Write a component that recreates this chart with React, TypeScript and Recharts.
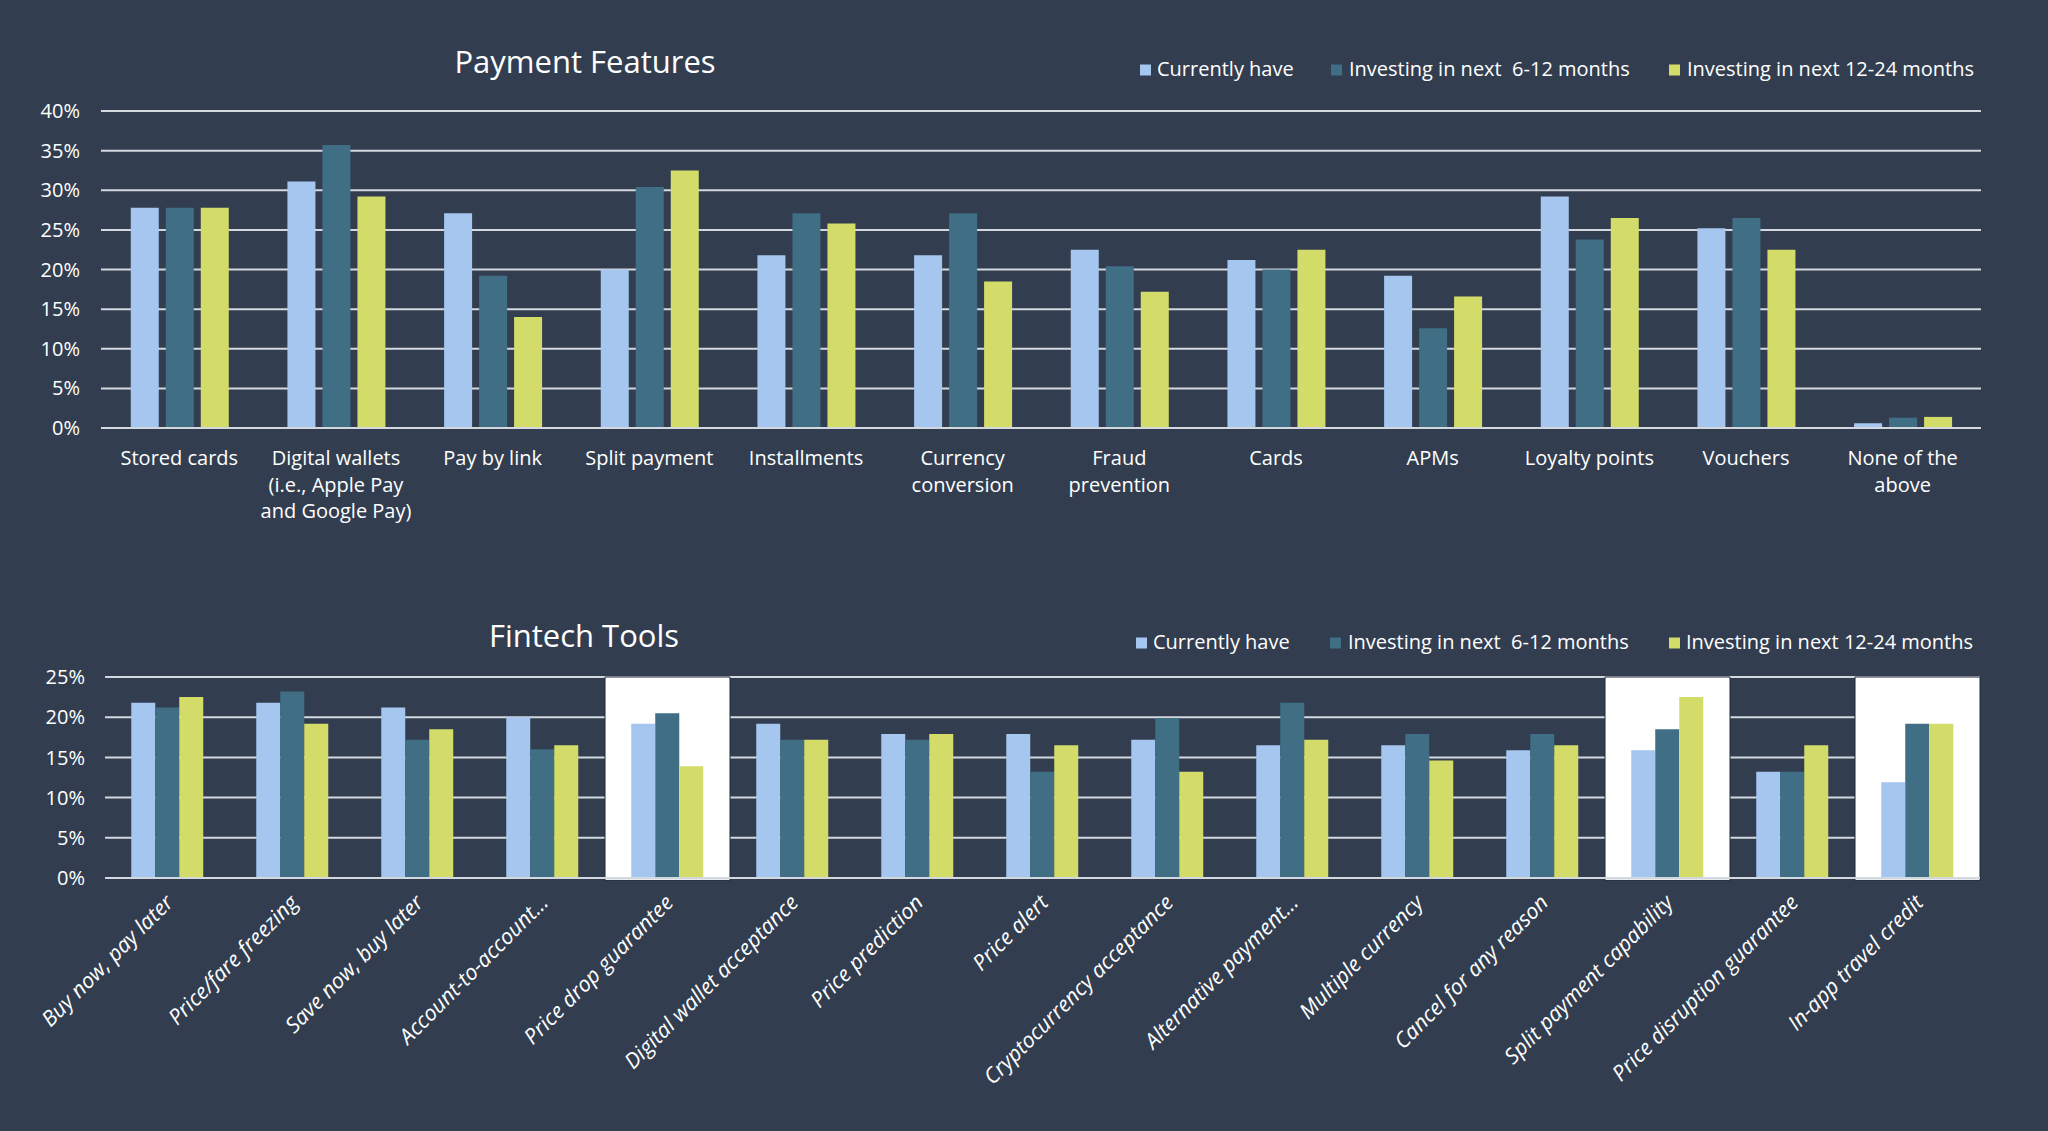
import React from "react";
import {
  BarChart,
  Bar,
  CartesianGrid,
  ReferenceArea,
  XAxis,
  YAxis,
} from "recharts";

const FONT = "'Open Sans', 'DejaVu Sans', sans-serif";
const BG = "#323e50";
const GRID = "#d3d8de";
const COLORS = ["#a5c6ee", "#3f6e85", "#d4dc69"];
const seriesNames = [
  "Currently have",
  "Investing in next  6-12 months",
  "Investing in next 12-24 months",
];

// Payment Features
const paymentCategories = [
  "Stored cards",
  "Digital wallets\n(i.e., Apple Pay\nand Google Pay)",
  "Pay by link",
  "Split payment",
  "Installments",
  "Currency\nconversion",
  "Fraud\nprevention",
  "Cards",
  "APMs",
  "Loyalty points",
  "Vouchers",
  "None of the\nabove",
];
const paymentCurrent = [27.8, 31.1, 27.1, 20.0, 21.8, 21.8, 22.5, 21.2, 19.2, 29.2, 25.2, 0.6];
const payment6to12 = [27.8, 35.7, 19.2, 30.4, 27.1, 27.1, 20.4, 20.0, 12.6, 23.8, 26.5, 1.3];
const payment12to24 = [27.8, 29.2, 14.0, 32.5, 25.8, 18.5, 17.2, 22.5, 16.6, 26.5, 22.5, 1.4];
const paymentTicks = [0, 5, 10, 15, 20, 25, 30, 35, 40];

// Fintech Tools
const fintechCategories = [
  "Buy now, pay later",
  "Price/fare freezing",
  "Save now, buy later",
  "Account-to-account...",
  "Price drop guarantee",
  "Digital wallet acceptance",
  "Price prediction",
  "Price alert",
  "Cryptocurrency acceptance",
  "Alternative payment...",
  "Multiple currency",
  "Cancel for any reason",
  "Split payment capability",
  "Price disruption guarantee",
  "In-app travel credit",
];
const fintechCurrent = [21.8, 21.8, 21.2, 20.0, 19.2, 19.2, 17.9, 17.9, 17.2, 16.5, 16.5, 15.9, 15.9, 13.2, 11.9];
const fintech6to12 = [21.2, 23.2, 17.2, 16.0, 20.5, 17.2, 17.2, 13.2, 19.9, 21.8, 17.9, 17.9, 18.5, 13.2, 19.2];
const fintech12to24 = [22.5, 19.2, 18.5, 16.5, 13.9, 17.2, 17.9, 16.5, 13.2, 17.2, 14.6, 16.5, 22.5, 16.5, 19.2];
const fintechTicks = [0, 5, 10, 15, 20, 25];
const fintechHighlighted = [
  "Price drop guarantee",
  "Split payment capability",
  "In-app travel credit",
];

const paymentData = paymentCategories.map((name, i) => ({
  name,
  current: paymentCurrent[i],
  next6to12: payment6to12[i],
  next12to24: payment12to24[i],
}));

const fintechData = fintechCategories.map((name, i) => ({
  name,
  current: fintechCurrent[i],
  next6to12: fintech6to12[i],
  next12to24: fintech12to24[i],
}));

const seriesKeys = ["current", "next6to12", "next12to24"];

const PaymentTick = ({ x, y, payload }: any) => {
  const lines = String(payload.value).split("\n");
  return (
    <text
      x={x}
      y={y + 37}
      textAnchor="middle"
      fill="#ffffff"
      fontSize={20}
      fontFamily={FONT}
    >
      {lines.map((line, i) => (
        <tspan key={i} x={x} dy={i === 0 ? 0 : 26.7}>
          {line}
        </tspan>
      ))}
    </text>
  );
};

const FintechTick = ({ x, y, payload }: any) => {
  return (
    <g transform={`translate(${x + 7},${y + 26})`}>
      <text
        x={0}
        y={0}
        textAnchor="end"
        transform="rotate(-45)"
        fill="#ffffff"
        fontSize={21.5}
        fontStyle="italic"
        fontFamily={FONT}
      >
        {payload.value}
      </text>
    </g>
  );
};

const Title = ({ x, y, text }: any) => (
  <text x={x} y={y} textAnchor="middle" fill="#ffffff" fontSize={31} fontFamily={FONT}>
    {text}
  </text>
);

const LegendRow = ({ y, squareX, textX }: any) => (
  <g>
    {seriesNames.map((name, i) => (
      <g key={name}>
        <rect x={squareX[i]} y={y - 11.5} width={11} height={11} fill={COLORS[i]} />
        <text
          x={textX[i]}
          y={y}
          fill="#ffffff"
          fontSize={20}
          fontFamily={FONT}
          style={{ whiteSpace: "pre" }}
        >
          {name}
        </text>
      </g>
    ))}
  </g>
);

const yTickStyle = { fill: "#ffffff", fontSize: 20, fontFamily: FONT };

export default function App() {
  return (
    <div
      style={{
        position: "absolute",
        left: 0,
        top: 0,
        width: 2048,
        height: 1131,
        background: BG,
        overflow: "hidden",
      }}
    >
      <div style={{ position: "absolute", left: 0, top: 0 }}>
        <BarChart
          width={2048}
          height={560}
          data={paymentData}
          margin={{ top: 111, right: 67, left: 41, bottom: 102 }}
          barCategoryGap="19%"
          barGap={7}
        >
          <CartesianGrid vertical={false} stroke={GRID} strokeWidth={2} />
          <XAxis
            dataKey="name"
            interval={0}
            height={30}
            tickLine={false}
            tickSize={0}
            tickMargin={0}
            axisLine={{ stroke: GRID, strokeWidth: 2 }}
            tick={<PaymentTick />}
          />
          <YAxis
            width={60}
            domain={[0, 40]}
            ticks={paymentTicks}
            axisLine={false}
            tickLine={false}
            tickSize={0}
            tickMargin={21}
            tick={yTickStyle}
            tickFormatter={(v) => `${v}%`}
          />
          {seriesKeys.map((key, i) => (
            <Bar key={key} dataKey={key} fill={COLORS[i]} isAnimationActive={false} />
          ))}
        </BarChart>
      </div>

      <div style={{ position: "absolute", left: 0, top: 560 }}>
        <BarChart
          width={2048}
          height={571}
          data={fintechData}
          margin={{ top: 117, right: 68, left: 45, bottom: 223 }}
          barCategoryGap="21%"
          barGap={0}
        >
          {fintechHighlighted.map((name) => (
            <ReferenceArea
              key={name}
              x1={name}
              x2={name}
              y1={-0.3}
              y2={25}
              ifOverflow="visible"
              fill="#ffffff"
              fillOpacity={1}
              stroke="#1f2838"
              strokeWidth={1}
            />
          ))}
          <CartesianGrid vertical={false} stroke={GRID} strokeWidth={2} />
          <XAxis
            dataKey="name"
            interval={0}
            height={30}
            tickLine={false}
            tickSize={0}
            tickMargin={0}
            axisLine={{ stroke: GRID, strokeWidth: 2 }}
            tick={<FintechTick />}
          />
          <YAxis
            width={60}
            domain={[0, 25]}
            ticks={fintechTicks}
            axisLine={false}
            tickLine={false}
            tickSize={0}
            tickMargin={20}
            tick={yTickStyle}
            tickFormatter={(v) => `${v}%`}
          />
          {seriesKeys.map((key, i) => (
            <Bar key={key} dataKey={key} fill={COLORS[i]} isAnimationActive={false} />
          ))}
        </BarChart>
      </div>

      <svg
        width={2048}
        height={1131}
        style={{ position: "absolute", left: 0, top: 0, pointerEvents: "none" }}
      >
        <Title x={585} y={73} text="Payment Features" />
        <LegendRow y={76} squareX={[1140, 1331, 1669]} textX={[1157, 1349, 1687]} />
        <Title x={584} y={647} text="Fintech Tools" />
        <LegendRow y={649} squareX={[1136, 1330, 1669]} textX={[1153, 1348, 1686]} />
      </svg>
    </div>
  );
}
